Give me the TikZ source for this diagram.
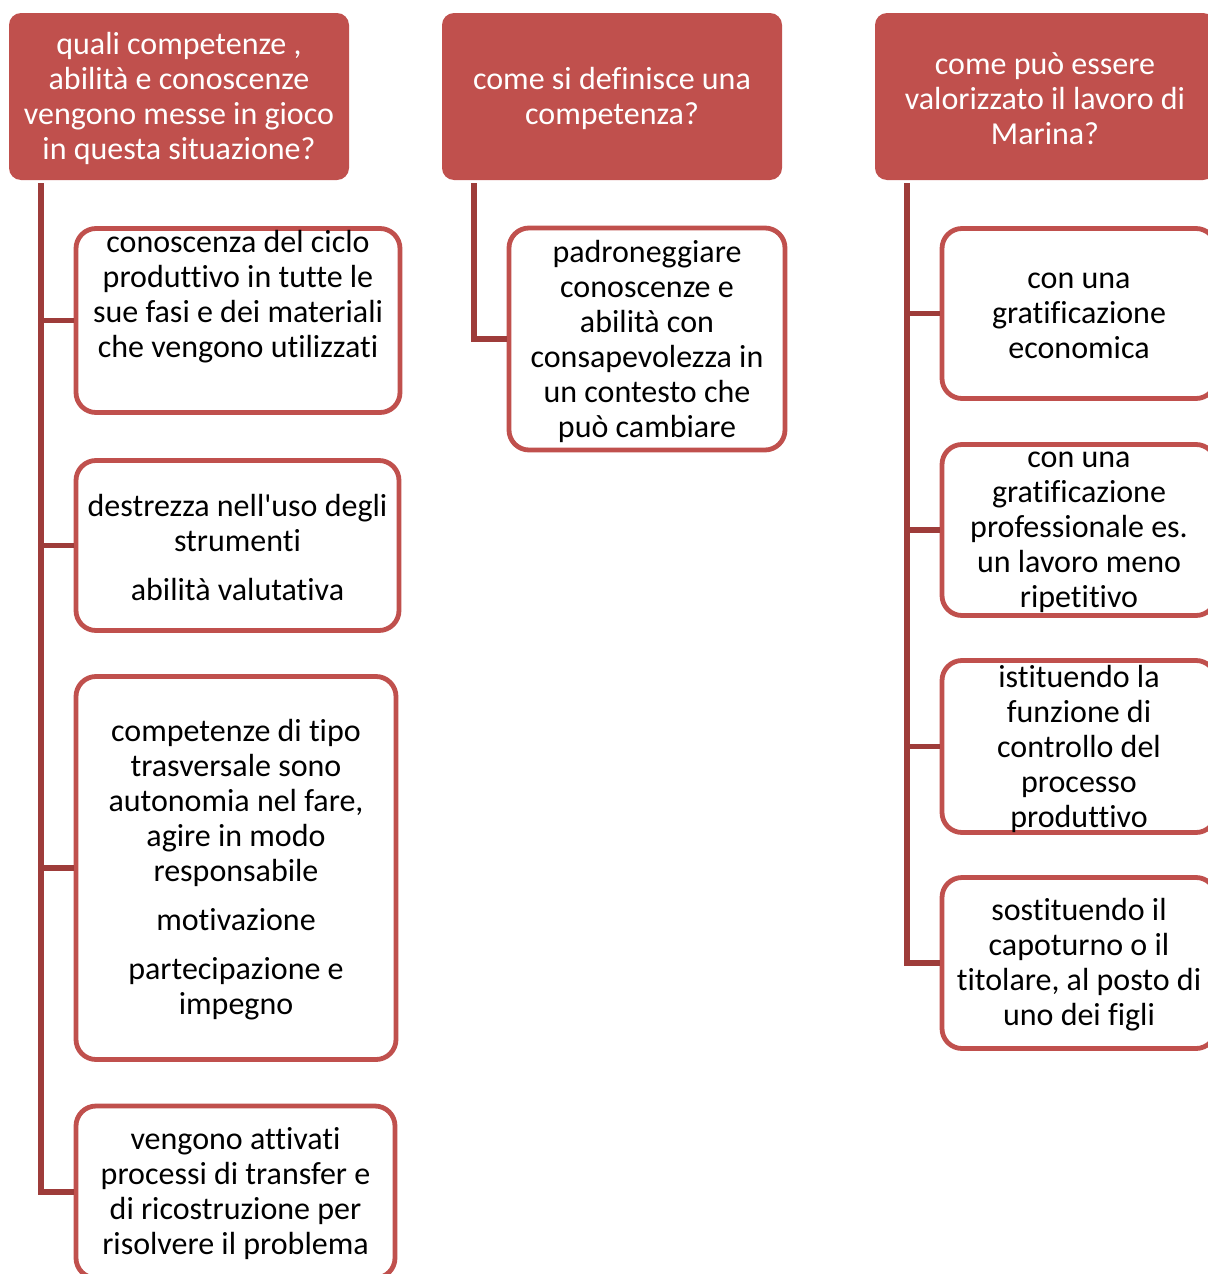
\documentclass[tikz,border=0pt]{standalone}
\usepackage{fontspec}
\setmainfont{Carlito}[Ligatures={NoCommon}]
\usepackage{tikz}
\usetikzlibrary{positioning}
\definecolor{hdred}{HTML}{C0504D}
\definecolor{lnred}{HTML}{9E3C3A}

\begin{document}
\begin{tikzpicture}[
            x=0.5pt, y=-0.5pt,
            head/.style={fill=hdred, rounded corners=6pt, minimum width=170pt, minimum height=83.5pt},
            item/.style={draw=hdred, line width=2.4pt, fill=white, rounded corners=10pt},
            conn/.style={draw=lnred, line width=2.8pt},
            txt/.style={align=center, inner sep=0pt, font=\fontsize{16}{17.5}\selectfont},
            wtxt/.style={txt, text=white}
        ]
        \clip (0,0) rectangle (1208,1274);

        % 1. X-coordinates (headers and boxes of the three columns)
        \def\hA{179}
        \def\hB{612}
        \def\hC{1045}
        \def\bA{238}
        \def\bB{647}
        \def\bC{1079}

        % 2. Headers
        \node[head] (h1) at (\hA, 96.5) {};
        \node[head] (h2) at (\hB, 96.5) {};
        \node[head] (h3) at (\hC, 96.5) {};
        \node[wtxt] (h1t) at ([yshift=-1pt]h1) {quali competenze ,\\abilità e conoscenze\\vengono messe in gioco\\in questa situazione?};
        \node[wtxt] (h2t) at ([yshift=-1pt]h2) {come si definisce una\\competenza?};
        \node[wtxt] (h3t) at ([yshift=-1pt]h3) {come può essere\\valorizzato il lavoro di\\Marina?};

        % 3. Trunk coordinates below the headers
        \coordinate (t1) at (41, 183);
        \coordinate (t2) at (474, 183);
        \coordinate (t3) at (907, 183);

        % --- COLUMN 1 ---
        \node[item, minimum width=162pt, minimum height=92pt] (a1) at (\bA, 320.5) {};
        \node[item, minimum width=161.5pt, minimum height=85pt] (a2) at (237.5, 545.5) {};
        \node[item, minimum width=160pt, minimum height=191.5pt] (a3) at (236, 868) {};
        \node[item, minimum width=159.5pt, minimum height=86pt] (a4) at (235.5, 1192) {};

        \node[txt] (a1t) at (\bA, 297) {conoscenza del ciclo\\produttivo in tutte le\\sue fasi e dei materiali\\che vengono utilizzati};
        \node[txt] (a2t) at ([yshift=-1pt]a2) {destrezza nell\textquotesingle uso degli\\strumenti\\[7pt]abilità valutativa};
        \node[txt] (a3t) at ([yshift=-1pt]a3) {competenze di tipo\\trasversale sono\\autonomia nel fare,\\agire in modo\\responsabile\\[7pt]motivazione\\[7pt]partecipazione e\\impegno};
        \node[txt] (a4t) at ([yshift=-1pt]a4) {vengono attivati\\processi di transfer e\\di ricostruzione per\\risolvere il problema};

        \draw[conn] (t1) |- (a4.west);
        \draw[conn] (t1 |- a1.west) -- (a1.west);
        \draw[conn] (t1 |- a2.west) -- (a2.west);
        \draw[conn] (t1 |- a3.west) -- (a3.west);

        % --- COLUMN 2 ---
        \node[item, minimum width=138pt, minimum height=111pt] (b1) at (\bB, 339) {};
        \node[txt] (b1t) at ([yshift=-1pt]b1) {padroneggiare\\conoscenze e\\abilità con\\consapevolezza in\\un contesto che\\può cambiare};

        \draw[conn] (t2) |- (b1.west);

        % --- COLUMN 3 ---
        \node[item, minimum width=137pt, minimum height=85pt] (c1) at (\bC, 313.5) {};
        \node[item, minimum width=137pt, minimum height=85.5pt] (c2) at (\bC, 530) {};
        \node[item, minimum width=137pt, minimum height=86pt] (c3) at (\bC, 746.5) {};
        \node[item, minimum width=137pt, minimum height=85.5pt] (c4) at (\bC, 963) {};

        \node[txt] (c1t) at ([yshift=-1pt]c1) {con una\\gratificazione\\economica};
        \node[txt] (c2t) at ([yshift=-1pt]c2) {con una\\gratificazione\\professionale es.\\un lavoro meno\\ripetitivo};
        \node[txt] (c3t) at ([yshift=-1pt]c3) {istituendo la\\funzione di\\controllo del\\processo\\produttivo};
        \node[txt] (c4t) at ([yshift=-1pt]c4) {sostituendo il\\capoturno o il\\titolare, al posto di\\uno dei figli};

        \draw[conn] (t3) |- (c4.west);
        \draw[conn] (t3 |- c1.west) -- (c1.west);
        \draw[conn] (t3 |- c2.west) -- (c2.west);
        \draw[conn] (t3 |- c3.west) -- (c3.west);

        \end{tikzpicture}
\end{document}
